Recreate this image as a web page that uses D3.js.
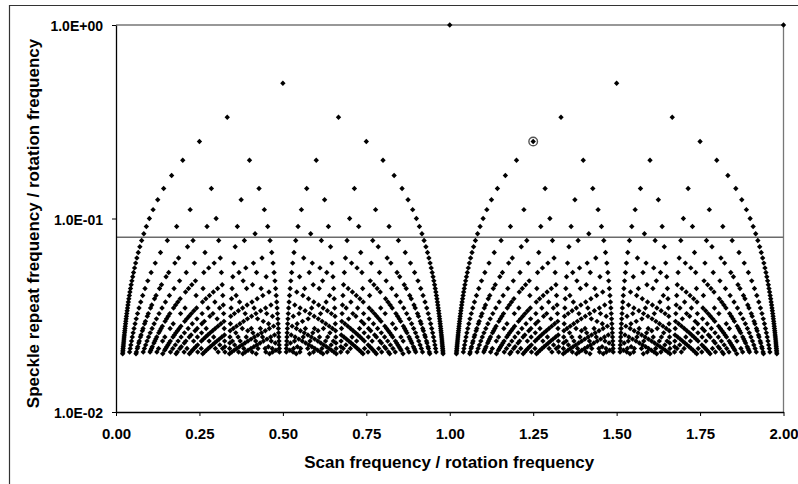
<!DOCTYPE html>
<html><head><meta charset="utf-8">
<script src="https://cdn.jsdelivr.net/npm/d3@7/dist/d3.min.js"></script>
<style>
html,body{margin:0;padding:0;background:#fff;}
svg{display:block;}
text{font-family:"Liberation Sans",Arial,sans-serif;font-weight:bold;fill:#000;}
</style></head>
<body>
<svg id="c" width="798" height="484"></svg>
<script>
// ---- data ----
// Points sit at scan ratios p/q (in lowest terms) with speckle ratio 1/q
const denominators = [1,2,3,4,5,6,7,8,9,10,11,12,13,14,15,16,17,18,19,20,21,22,23,24,25,
  26,27,28,29,30,31,32,33,34,35,36,37,38,39,40,41,42,43,44,45,46,47,48,49,50];
const scanRange = [0, 2];
const xTickValues = [0, 0.25, 0.5, 0.75, 1.0, 1.25, 1.5, 1.75, 2.0];
const xTickLabels = ["0.00","0.25","0.50","0.75","1.00","1.25","1.50","1.75","2.00"];
const yTickValues = [1, 0.1, 0.01];
const yTickLabels = ["1.0E+00","1.0E-01","1.0E-02"];
const thresholdValue = 0.08;
const highlightX = [1.25];
const highlightY = [0.25];
const xTitle = "Scan frequency / rotation frequency";
const yTitle = "Speckle repeat frequency / rotation frequency";

function gcd(a,b){ while(b){ [a,b]=[b,a%b]; } return a; }
const points = [];
denominators.forEach(q => {
  for (let p = 1; p <= scanRange[1]*q; p++) {
    if (gcd(p,q) === 1) points.push({x: p/q, y: 1/q});
  }
});

// ---- layout ----
const svg = d3.select("#c");
const L = 116, R = 783.5, T = 25, B = 412;
const x = d3.scaleLinear().domain(scanRange).range([L, R]);
const y = d3.scaleLog().domain([0.01, 1]).range([B, T]);

// chart area border
svg.append("path").attr("d","M9.5,490V5.5H805").attr("fill","none").attr("stroke","#333").attr("stroke-width",1.2);

// plot area top/right border
svg.append("path").attr("d",`M${L},${T}H${R}V${B}`).attr("fill","none").attr("stroke","#777").attr("stroke-width",1.3);

// threshold line
svg.append("line").attr("x1",L).attr("x2",R).attr("y1",y(thresholdValue)).attr("y2",y(thresholdValue))
  .attr("stroke","#6a6a6a").attr("stroke-width",1.3);

// axes
const xAxis = d3.axisBottom(x).tickValues(xTickValues).tickFormat((d,i)=>xTickLabels[i]).tickSize(4).tickSizeOuter(0).tickPadding(12);
const gx = svg.append("g").attr("transform",`translate(0,${B})`).call(xAxis);
gx.select(".domain").attr("stroke","#000").attr("stroke-width",1.3);
gx.selectAll(".tick line").attr("stroke","#000");
gx.selectAll("text").style("font-size","15px").attr("font-family",null);

const yAxis = d3.axisLeft(y).tickValues(yTickValues).tickFormat((d,i)=>yTickLabels[i]).tickSize(4).tickSizeOuter(0).tickPadding(9);
const gy = svg.append("g").attr("transform",`translate(${L},0)`).call(yAxis);
gy.select(".domain").attr("stroke","#000").attr("stroke-width",1.3);
gy.selectAll(".tick line").attr("stroke","#000");
gy.selectAll("text").style("font-size","14px").attr("font-family",null).attr("dy","0.42em");

// points (diamonds)
const s = 2.7;
const diamond = `M0,${-s}L${s},0L0,${s}L${-s},0Z`;
svg.append("g").selectAll("path").data(points).join("path")
  .attr("d", diamond)
  .attr("transform", d => `translate(${x(d.x)},${y(d.y)})`)
  .attr("fill","#000");

// highlighted point
svg.append("g").selectAll("circle").data(highlightX).join("circle")
  .attr("cx",(d)=>x(d)).attr("cy",(d,i)=>y(highlightY[i])).attr("r",4.3)
  .attr("fill","none").attr("stroke","#555").attr("stroke-width",1.4);

// titles
svg.append("text").attr("x",(L+R)/2 - 0.5).attr("y",468).attr("text-anchor","middle")
  .style("font-size","17px").text(xTitle);
svg.append("text").attr("transform",`translate(39,${(T+B)/2 + 5}) rotate(-90)`).attr("text-anchor","middle")
  .style("font-size","17px").text(yTitle);
</script>
</body></html>
